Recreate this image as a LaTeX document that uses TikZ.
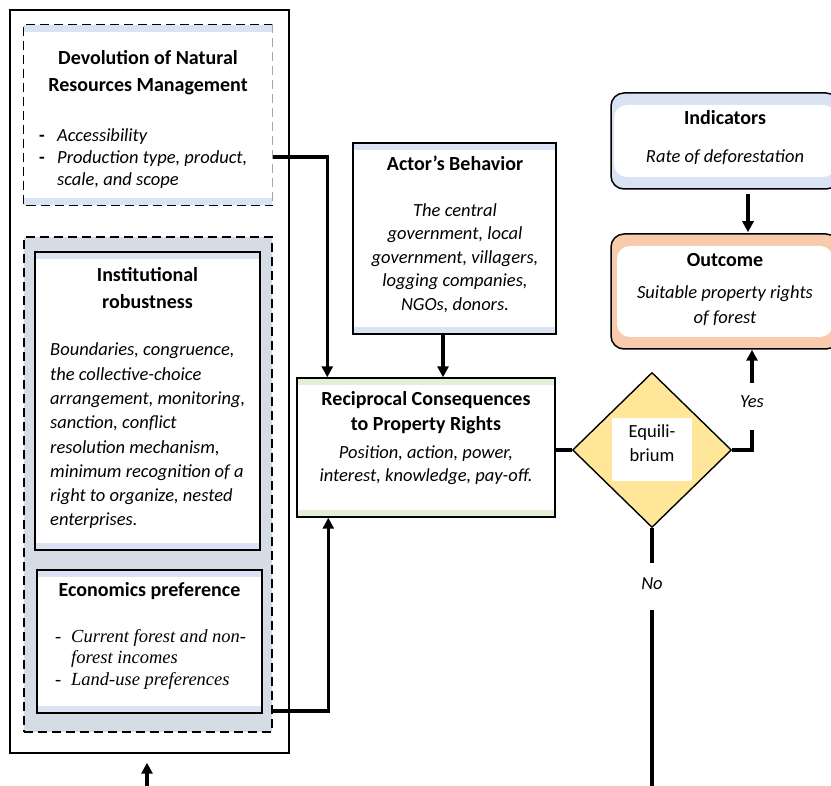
\documentclass[tikz,border=0pt]{standalone}
\usepackage{fontspec}
\setmainfont{Carlito}
\newfontfamily\tnr{Liberation Serif}
\usetikzlibrary{arrows.meta,calc,shapes.geometric}
\definecolor{stripblue}{HTML}{DAE3F3}
\definecolor{groupfill}{HTML}{D6DCE5}
\definecolor{stripgreen}{HTML}{E2F0D9}
\definecolor{eqfill}{HTML}{FFE699}
\definecolor{peach}{HTML}{F8CBAD}
\tikzset{
  box/.style={draw=black, line width=1.4pt, inner sep=0pt, fill=white},
  strips/.style={path picture={
    \fill[#1] (path picture bounding box.north west) rectangle ([yshift=-7pt]path picture bounding box.north east);
    \fill[#1] (path picture bounding box.south west) rectangle ([yshift=7pt]path picture bounding box.south east);}},
  roundbox/.style 2 args={draw=black, line width=1.5pt, rounded corners=13pt, inner sep=0pt, fill=#1,
    path picture={\fill[white] ([xshift=#2,yshift=-12pt]path picture bounding box.north west) rectangle ([xshift=-#2,yshift=12pt]path picture bounding box.south east);}},
  dashpat/.style={dash pattern=on 9pt off 5pt},
  conn/.style={line width=3.2pt, line cap=butt},
  arr/.style={conn, -{Triangle[length=11pt,width=11pt]}},
  ttl/.style={font=\fontsize{20}{27}\selectfont\bfseries, align=center, inner sep=0pt},
  body/.style={font=\fontsize{18.5}{24}\selectfont\itshape, inner sep=0pt},
  lbl/.style={font=\fontsize{18.5}{20}\selectfont\itshape, inner sep=0pt},
}
\begin{document}
\begin{tikzpicture}[x=1pt,y=-1pt]
\useasboundingbox (0,0) rectangle (831,786);
% outer frame
\node[box, fill=none, minimum width=279pt, minimum height=743pt] (outer) at (149.5,381.5) {};
% devolution box
\node[box, draw=none, strips=stripblue, minimum width=248pt, minimum height=180pt] (dev) at (148,115) {};
\draw[black, line width=1.5pt, dashpat] (dev.north east) -- (dev.north west) -- (dev.south west) -- (dev.south east);
\draw[black!35, line width=1.4pt, dashpat] (dev.north east) -- (dev.south east);
\node[ttl] (devt) at (148,73) {Devolution of Natural\\Resources Management};
\node[anchor=west, align=left, inner sep=0pt, font=\fontsize{18.5}{22}\selectfont] (devb) at (39,159)
  {\makebox[18pt][l]{\textbf{-}}\textit{Accessibility}\\
   \makebox[18pt][l]{\textbf{-}}\textit{Production type, product,}\\
   \makebox[18pt][l]{}\textit{scale, and scope}};
% grey group
\node[box, fill=groupfill, line width=1.5pt, dashpat, minimum width=248pt, minimum height=495pt] (grp) at (148,484.5) {};
% institutional robustness
\node[box, strips=stripblue, minimum width=225pt, minimum height=298pt] (inst) at (147.5,401) {};
\node[ttl] (instt) at (147.5,288) {Institutional\\robustness};
\node[body, anchor=west, align=left, font=\fontsize{18.5}{24.3}\selectfont\itshape] (instb) at (50,436)
  {Boundaries, congruence,\\the collective-choice\\arrangement, monitoring,\\sanction, conflict\\resolution mechanism,\\minimum recognition of a\\right to organize, nested\\enterprises.};
% economics preference
\node[box, strips=stripblue, minimum width=225pt, minimum height=143pt] (econ) at (149.5,641.5) {};
\node[ttl] (econt) at (149.5,591) {Economics preference};
\node[anchor=west, align=left, inner sep=0pt, font=\tnr\fontsize{18.5}{21.5}\selectfont] (econb) at (55,659)
  {\makebox[16pt][l]{-}\textit{Current forest and non-}\\
   \makebox[16pt][l]{}\textit{forest incomes}\\
   \makebox[16pt][l]{-}\textit{Land-use preferences}};
% actor's behaviour
\node[box, strips=stripblue, minimum width=203pt, minimum height=191pt] (actor) at (454.5,238.5) {};
\node[ttl] (actort) at (455,163) {Actor’s Behavior};
\node[body, align=center, font=\fontsize{18.5}{23.5}\selectfont\itshape] (actorb) at (455,258)
  {The central\\government, local\\government, villagers,\\logging companies,\\NGOs, donors.};
% reciprocal consequences
\node[box, strips=stripgreen, minimum width=258pt, minimum height=139pt] (recip) at (426,447.5) {};
\node[ttl, font=\fontsize{20}{25}\selectfont\bfseries] (recipt) at (426,413) {Reciprocal Consequences\\to Property Rights};
\node[body, align=center, font=\fontsize{18.5}{23}\selectfont\itshape] (recipb) at (426,465.5)
  {Position, action, power,\\interest, knowledge, pay-off.};
% equilibrium diamond
\node[diamond, draw=black, line width=1.4pt, fill=eqfill, inner sep=0pt, minimum width=159pt, minimum height=155pt] (eq) at (652,450) {};
\node[fill=white, inner sep=0pt, minimum width=80pt, minimum height=63pt] (eqbox) at (652,449.5) {};
\node[align=center, inner sep=0pt, font=\fontsize{18.5}{24}\selectfont] (eqt) at (652,443) {Equili-\\brium};
% indicators
\node[roundbox={stripblue}{3pt}, minimum width=228pt, minimum height=96pt] (ind) at (725,141) {};
\node[ttl] (indt) at (725,118) {Indicators};
\node[body] (indb) at (725,157) {Rate of deforestation};
% outcome
\node[roundbox={peach}{6pt}, minimum width=228pt, minimum height=115pt] (out) at (725,291.5) {};
\node[ttl] (outt) at (725,260) {Outcome};
\node[body, align=center, font=\fontsize{18.5}{25}\selectfont\itshape] (outb) at (725,306) {Suitable property rights\\of forest};
% connectors
\draw[arr] ($(dev.east)+(0,42)$) -| ($(recip.north west)+(31,0)$);
\draw[arr] ($(grp.east)+(0,226.5)$) -| ($(recip.south west)+(32,0)$);
\draw[arr] ($(actor.south)+(-11.5,0)$) -- ($(recip.north)+(17,0)$);
\draw[conn] (eq.west -| recip.east) -- (eq.west);
\coordinate (yesA) at (752,430);
\coordinate (yesB) at (752,383);
\draw[conn] (eq.east) -| (yesA);
\node[lbl] (yes) at (752,402) {Yes};
\draw[arr] (yesB) -- (yesB |- out.south);
\coordinate (noA) at (652,563);
\coordinate (noB) at (652,610);
\coordinate (noC) at (652,790);
\draw[conn] (eq.south) -- (noA);
\node[lbl] (no) at (652,584) {No};
\draw[conn] (noB) -- (noC);
\draw[arr] ($(ind.south)+(23,4)$) -- ($(out.north)+(23,-1)$);
\coordinate (botA) at (147,790);
\draw[arr] (botA) -- ($(outer.south)+(-2.5,9)$);
\end{tikzpicture}
\end{document}
